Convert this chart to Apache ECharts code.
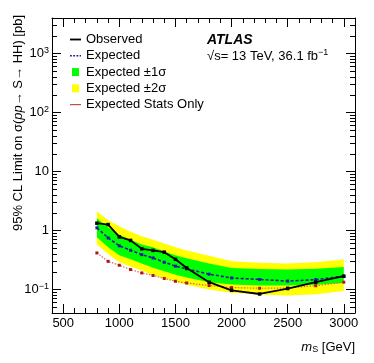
<!DOCTYPE html>
<html>
<head>
<meta charset="utf-8">
<script src="https://cdn.jsdelivr.net/npm/echarts@6/dist/echarts.min.js"></script>
<style>
  html, body { margin: 0; padding: 0; background: #fff; }
  #chart { width: 374px; height: 363px; }
</style>
</head>
<body>
<div id="chart"></div>
<script>
// scalar mass points [GeV]
const mass = [800, 900, 1000, 1100, 1200, 1300, 1400, 1500, 1600, 1800, 2000, 2250, 2500, 2750, 3000];
// limits [pb]
const observed = [1.33, 1.26, 0.78, 0.68, 0.49, 0.46, 0.43, 0.325, 0.232, 0.133, 0.097, 0.084, 0.104, 0.133, 0.168];
const expected = [1.11, 0.75, 0.55, 0.463, 0.39, 0.343, 0.29, 0.249, 0.224, 0.182, 0.157, 0.148, 0.139, 0.147, 0.168];
const statsOnly = [0.417, 0.30, 0.258, 0.218, 0.191, 0.173, 0.154, 0.138, 0.129, 0.117, 0.108, 0.105, 0.106, 0.116, 0.133];
const sig1Up = [1.62, 1.12, 0.85, 0.70, 0.58, 0.52, 0.44, 0.38, 0.34, 0.275, 0.232, 0.222, 0.218, 0.225, 0.242];
const sig1Down = [0.77, 0.52, 0.38, 0.325, 0.275, 0.235, 0.205, 0.178, 0.16, 0.133, 0.122, 0.117, 0.117, 0.12, 0.129];
const sig2Up = [2.12, 1.5, 1.18, 0.95, 0.80, 0.70, 0.60, 0.52, 0.46, 0.375, 0.302, 0.285, 0.276, 0.29, 0.323];
const sig2Down = [0.58, 0.40, 0.29, 0.245, 0.21, 0.175, 0.155, 0.135, 0.12, 0.10, 0.088, 0.082, 0.079, 0.083, 0.094];
// axis labels
const xLabelValues = [500, 1000, 1500, 2000, 2500, 3000];
const yLabelValues = [0.1, 1, 10, 100, 1000];

const FONT = '"Liberation Sans", Arial, sans-serif';

// minor ticks of the log axis: 2..9 in each decade
const yMinor = [];
for (let d = -2; d <= 3; d++) {
  for (let k = 2; k <= 9; k++) {
    const v = k * Math.pow(10, d);
    if (v >= 0.04 && v <= 4000) yMinor.push(+v.toPrecision(3));
  }
}

function band(name, color, lo, hi, z) {
  return {
    name: name,
    type: 'custom',
    z: z,
    silent: true,
    itemStyle: { color: color },
    data: mass.map((m, i) => [m, lo[i], hi[i]]),
    encode: { x: 0, y: [1, 2] },
    renderItem: function (params, api) {
      if (params.dataIndex !== 0) return null;
      const pts = [];
      for (let i = 0; i < mass.length; i++) pts.push(api.coord([mass[i], hi[i]]));
      for (let i = mass.length - 1; i >= 0; i--) pts.push(api.coord([mass[i], lo[i]]));
      return { type: 'polygon', shape: { points: pts }, style: { fill: color } };
    }
  };
}

function xAx(pos, major, showLabel) {
  return {
    type: 'value', position: pos, min: 400, max: 3100,
    interval: major ? undefined : 100,
    axisLine: { show: major, lineStyle: { color: '#000', width: 1 } },
    axisTick: major
      ? { inside: true, length: 9, customValues: xLabelValues, lineStyle: { color: '#000' } }
      : { inside: true, length: 5, lineStyle: { color: '#000' } },
    axisLabel: showLabel
      ? { customValues: xLabelValues, color: '#000', fontSize: 13, fontFamily: FONT, margin: 4,
          formatter: function (v) { return String(v); } }
      : { show: false },
    splitLine: { show: false }
  };
}

function yAx(pos, major, showLabel) {
  return {
    type: 'log', logBase: 10, position: pos, min: 0.04, max: 4000,
    axisLine: { show: major, lineStyle: { color: '#000', width: 1 } },
    axisTick: { inside: true, length: major ? 9 : 5, customValues: major ? yLabelValues : yMinor, lineStyle: { color: '#000' } },
    axisLabel: showLabel ? {
      customValues: yLabelValues, color: '#000', fontSize: 13, fontFamily: FONT, margin: 3,
      formatter: function (v) {
        const p = Math.round(Math.log10(v));
        if (p === 0) return '1';
        if (p === 1) return '10';
        return '10{sup|' + (p < 0 ? '\u2212' + (-p) : p) + '}';
      },
      rich: { sup: { fontSize: 9, fontFamily: FONT, color: '#000', verticalAlign: 'top', padding: [0, 0, 7, 0] } }
    } : { show: false },
    splitLine: { show: false }
  };
}

const chart = echarts.init(document.getElementById('chart'));
chart.setOption({
  animation: false,
  backgroundColor: '#fff',
  textStyle: { fontFamily: FONT },
  grid: { left: 52, right: 19, top: 18, bottom: 50 },
  xAxis: [xAx('bottom', true, true), xAx('bottom', false, false), xAx('top', true, false), xAx('top', false, false)],
  yAxis: [yAx('left', true, true), yAx('left', false, false), yAx('right', true, false), yAx('right', false, false)],
  legend: {
    orient: 'vertical', left: 70, top: 33, padding: 0,
    itemWidth: 11, itemHeight: 8, itemGap: 3.3,
    selectedMode: false,
    itemStyle: { borderWidth: 0 },
    textStyle: { color: '#000', fontSize: 13, fontFamily: FONT, lineHeight: 13 },
    data: [
      { name: 'Observed', icon: 'path://M0,0h12v2h-12z' },
      { name: 'Expected', icon: 'path://M0,0h2v1.5h-2zM3.5,0h2v1.5h-2zM7,0h2v1.5h-2zM10.5,0h1.5v1.5h-1.5z' },
      { name: 'Expected \u00b11\u03c3', icon: 'path://M0,0h7v8h-7z' },
      { name: 'Expected \u00b12\u03c3', icon: 'path://M0,0h7v8h-7z' },
      { name: 'Expected Stats Only', icon: 'path://M0,0h12v1h-12z' }
    ]
  },
  graphic: [
    {
      type: 'text', x: 207, y: 40,
      style: { text: 'ATLAS', font: 'italic bold 14px ' + FONT, fill: '#000', textVerticalAlign: 'middle' }
    },
    {
      type: 'text', x: 207, y: 56,
      style: {
        text: '\u221as= 13 TeV, 36.1 fb{sup|\u22121}', font: '13px ' + FONT, fill: '#000', textVerticalAlign: 'middle',
        rich: { sup: { fontSize: 9, fontFamily: FONT, fill: '#000', verticalAlign: 'top', padding: [0, 0, 7, 0] } }
      }
    },
    {
      type: 'text', x: 18, y: 123, rotation: Math.PI / 2,
      style: {
        text: '95% CL Limit on \u03c3({i|pp}\u2192 S\u2192 HH) [pb]', font: '13px ' + FONT, fill: '#000',
        textAlign: 'center', textVerticalAlign: 'middle',
        rich: { i: { fontStyle: 'italic', fontSize: 13, fontFamily: FONT, fill: '#000' } }
      }
    },
    {
      type: 'text', x: 355, y: 347,
      style: {
        text: '{i|m}{sub|S} [GeV]', font: '13px ' + FONT, fill: '#000',
        textAlign: 'right', textVerticalAlign: 'middle',
        rich: {
          i: { fontStyle: 'italic', fontSize: 13, fontFamily: FONT, fill: '#000' },
          sub: { fontSize: 9, fontFamily: FONT, fill: '#000', verticalAlign: 'bottom', padding: [6, 0, 0, 0] }
        }
      }
    }
  ],
  series: [
    band('Expected \u00b12\u03c3', '#ffff00', sig2Down, sig2Up, 1),
    band('Expected \u00b11\u03c3', '#00ff00', sig1Down, sig1Up, 2),
    {
      name: 'Expected Stats Only', type: 'line', z: 3,
      data: mass.map((m, i) => [m, statsOnly[i]]),
      symbol: 'rect', symbolSize: 3,
      itemStyle: { color: '#b01515' },
      lineStyle: { color: '#e06060', width: 1.2, type: [1.5, 1.5] }
    },
    {
      name: 'Expected', type: 'line', z: 4,
      data: mass.map((m, i) => [m, expected[i]]),
      symbol: 'rect', symbolSize: 3,
      itemStyle: { color: '#1a1aa8' },
      lineStyle: { color: '#1a1aa8', width: 1.6, type: [3, 2] }
    },
    {
      name: 'Observed', type: 'line', z: 5,
      data: mass.map((m, i) => [m, observed[i]]),
      symbol: 'rect', symbolSize: 3.5,
      itemStyle: { color: '#000' },
      lineStyle: { color: '#000', width: 1.8 }
    }
  ]
});
</script>
</body>
</html>
